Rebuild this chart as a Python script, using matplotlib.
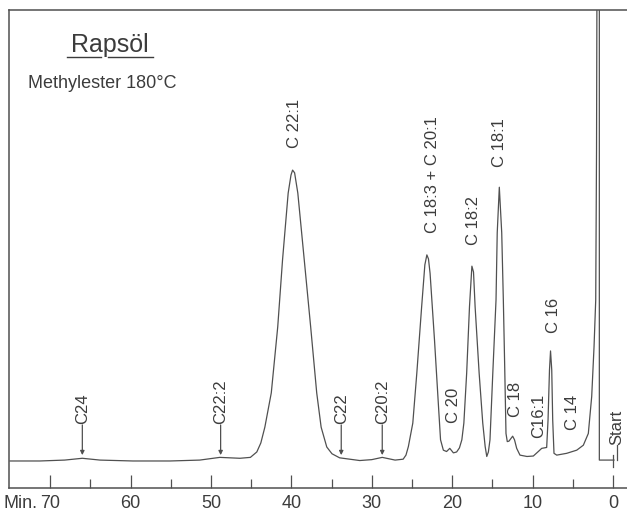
"""
Gas chromatogram of rapeseed oil methyl esters (recorder trace)
"""
import matplotlib.pyplot as plt
from matplotlib.ticker import FixedLocator

# Trace: retention time (min) and pen signal (% of full scale)
time_min = [75.0, 71.3, 68.2, 66.0, 63.8, 59.7, 55.1, 51.4, 48.9, 46.4,
            45.1, 44.3, 43.8, 43.3, 42.5, 41.7, 41.1, 40.4, 40.05, 39.85,
            39.6, 39.2, 38.4, 37.6, 36.85, 36.3, 35.6, 34.95, 34.0, 31.5,
            30.0, 28.7, 27.1, 26.1, 25.75, 25.45, 24.9, 24.4, 23.8, 23.4,
            23.15, 22.95, 22.75, 22.2, 21.7, 21.45, 21.1, 20.7, 20.3, 19.85,
            19.45, 19.1, 18.8, 18.55, 18.2, 17.85, 17.55, 17.35, 17.15, 16.65,
            16.2, 15.9, 15.7, 15.5, 15.3, 14.95, 14.55, 14.4, 14.14,
            13.84, 13.64, 13.47, 13.31, 13.15, 12.94, 12.48, 12.25, 11.98, 11.57,
            10.7, 9.91, 9.29, 8.87, 8.25, 8.08, 7.9, 7.77, 7.62, 7.5,
            7.34, 7.0, 5.76, 4.51, 3.69, 3.07, 2.65, 2.36, 2.15, 2.05,
            1.99, 1.7, 1.7, 0.12, -0.12]
signal_pct = [0.0, 0.0, 0.2, 0.6, 0.2, 0.0, 0.0, 0.2, 0.8, 0.6,
              0.8, 2.0, 4.0, 7.5, 15.1, 29.7, 44.6, 59.4, 63.4, 64.5,
              63.9, 59.4, 44.6, 29.7, 15.1, 7.5, 3.1, 1.6, 0.7, 0.1,
              0.3, 0.8, 0.2, 0.4, 1.3, 3.2, 8.4, 19.5, 34.2, 43.5,
              45.7, 44.8, 41.6, 26.8, 12.0, 4.7, 2.4, 2.1, 2.8, 1.8,
              2.0, 2.9, 4.7, 8.4, 19.5, 34.2, 43.2, 41.9, 34.2, 19.5,
              8.4, 3.2, 1.0, 2.0, 4.7, 19.5, 35.7, 50.6, 60.7,
              50.6, 35.7, 20.9, 6.1, 4.3, 4.4, 5.5, 4.7, 2.8, 1.3,
              1.0, 1.1, 2.1, 2.8, 3.0, 9.1, 20.2, 24.4, 20.2, 9.1,
              1.7, 1.3, 1.7, 2.4, 3.5, 6.1, 14.3, 25.3, 35.7, 69.0,
              110.0, 110.0, 0.2, 0.2, 0.2]

# Named peaks
peak_names = ['C 22:1', 'C 18:3 + C 20:1', 'C 18:2', 'C 18:1', 'C 16',
              'C 20', 'C 18', 'C16:1', 'C 14']
peak_times = [39.6, 22.5, 17.35, 14.1, 7.46, 19.9, 12.1, 9.2, 5.1]

# Minor components marked with an arrow
marked_names = ['C24', 'C22:2', 'C22', 'C20:2']
marked_times = [66.0, 48.8, 33.8, 28.7]

tick_pos = [70, 60, 50, 40, 30, 20, 10, 0]
tick_labels = ['70', '60', '50', '40', '30', '20', '10', '0']
minor_pos = [65, 55, 45, 35, 25, 15, 5]

LINE = '#505050'
TEXT = '#3c3c3c'
plt.rcParams['font.family'] = ['Liberation Sans', 'DejaVu Sans']

fig = plt.figure(figsize=(6.27, 5.11), dpi=100)
ax = fig.add_axes([9 / 627, 23 / 511, 618 / 627, 478 / 511])

ax.plot(time_min, signal_pct, color=LINE, lw=0.9)
ax.set_xlim(75.12, -1.74)
ax.set_ylim(-5.99, 100)

ax.spines['right'].set_visible(False)
for side in ['top', 'left', 'bottom']:
    ax.spines[side].set_color(LINE)
    ax.spines[side].set_linewidth(1.1)
ax.set_yticks([])

ax.xaxis.set_major_locator(FixedLocator(tick_pos))
ax.set_xticklabels(tick_labels)
ax.xaxis.set_minor_locator(FixedLocator(minor_pos))
ax.tick_params(axis='x', which='major', direction='in', length=9.5, width=0.9,
               color=LINE, labelsize=13, pad=5, labelcolor=TEXT)
ax.tick_params(axis='x', which='minor', direction='in', length=6.5, width=0.9,
               color=LINE)
ax.annotate('Min.', xy=(71.6, 0), xycoords=('data', 'axes fraction'),
            xytext=(0, -5), textcoords='offset points',
            ha='right', va='top', fontsize=13, color=TEXT)

# Title block
ax.text(62.6, 90.6, 'Rapsöl', ha='center', va='baseline', fontsize=18, color=TEXT)
ax.plot([67.9, 63.7], [89.6, 89.6], color=TEXT, lw=1.0)
ax.plot([62.8, 57.2], [89.6, 89.6], color=TEXT, lw=1.0)
ax.text(72.8, 82.7, 'Methylester 180°C', ha='left', va='baseline',
        fontsize=13, color=TEXT)

# Peak labels (bottom of each rotated label)
label_base = [69.4, 50.6, 47.9, 65.2, 28.4, 8.4, 9.8, 5.1, 6.9]
for name, t, yb in zip(peak_names, peak_times, label_base):
    ax.text(t, yb, name, rotation=90, ha='center', va='bottom',
            fontsize=12, color=TEXT)

# Arrow-marked small peaks
for name, t in zip(marked_names, marked_times):
    ax.text(t, 8.2, name, rotation=90, ha='center', va='bottom',
            fontsize=12, color=TEXT)
    ax.annotate('', xy=(t, 1.3), xytext=(t, 8.0),
                arrowprops=dict(arrowstyle='-|>', lw=0.9, color=LINE,
                                mutation_scale=6, shrinkA=0, shrinkB=0))

# Start mark
ax.text(-0.5, 3.6, 'Start', rotation=90, ha='center', va='bottom',
        fontsize=12, color=TEXT)
ax.plot([-0.5, -0.5], [3.5, 0.2], color=LINE, lw=0.9)
ax.plot([0, 0], [-1.4, 1.4], color=LINE, lw=0.9)

plt.savefig('out.png', dpi=100)
plt.close()
